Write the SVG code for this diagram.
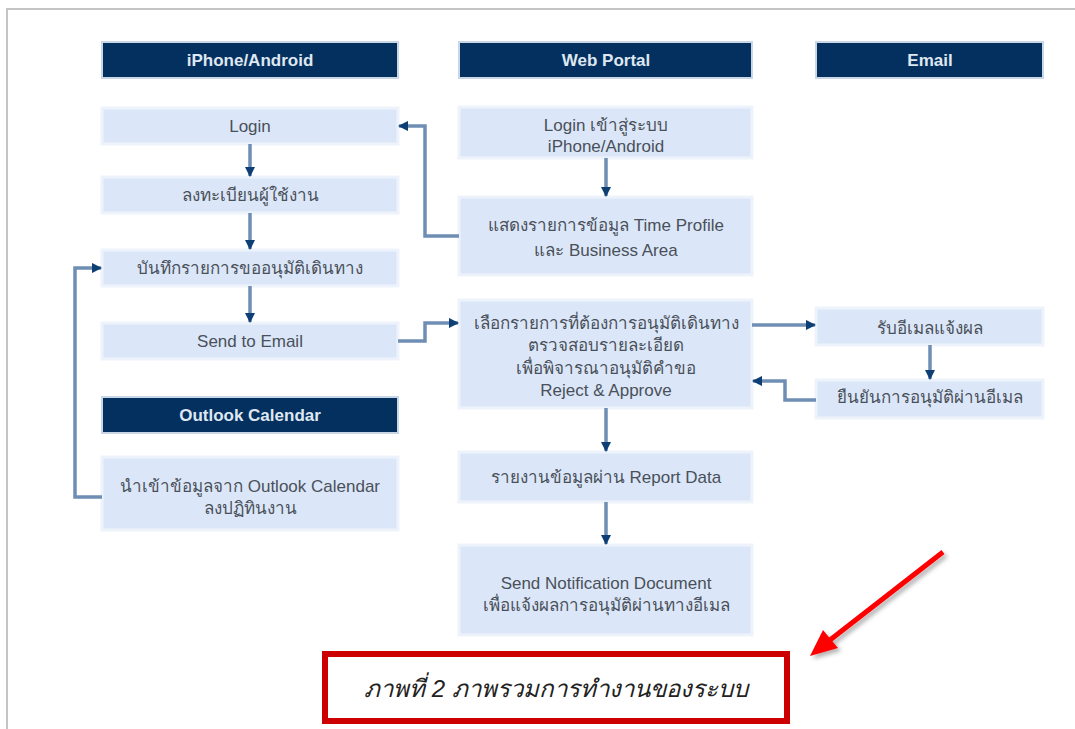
<svg xmlns="http://www.w3.org/2000/svg" width="1075" height="729" viewBox="0 0 1075 729">
<style>
.hd{fill:#04305f;stroke:#c9d6e6;stroke-width:2}
.bx{fill:#dbe7f8;stroke:#eef3fb;stroke-width:3}
.ht{font-family:"Liberation Sans","Noto Sans","DejaVu Sans",sans-serif;font-size:17px;font-weight:bold;fill:#dfe7f1;text-anchor:middle}
.bt{font-family:"Liberation Sans","Noto Sans","DejaVu Sans",sans-serif;font-size:17px;fill:#4a505a;text-anchor:middle}
.cn{fill:none;stroke:#6f8eb4;stroke-width:3.5;marker-end:url(#ah)}
.cap{font-family:"Liberation Sans","Noto Sans","DejaVu Sans",sans-serif;font-size:24px;font-style:italic;fill:#222;text-anchor:middle}
</style>
<defs>
<marker id="ah" viewBox="0 0 10 10" refX="9" refY="5" markerWidth="3" markerHeight="3" orient="auto">
<path d="M0,0 L10,5 L0,10 Z" fill="#0e3f74"/>
</marker>
<filter id="sh" x="-20%" y="-20%" width="140%" height="140%">
<feDropShadow dx="3" dy="3" stdDeviation="2" flood-color="#000" flood-opacity="0.3"/>
</filter>
</defs>
<rect width="1075" height="729" fill="#ffffff"/>
<path d="M7,729 V9 H1075" fill="none" stroke="#c4c4c4" stroke-width="2"/>

<g id="h-mobile"><rect class="hd" x="102" y="42" width="296" height="36"/><text class="ht" x="250" y="66">iPhone/Android</text></g>
<g id="h-web"><rect class="hd" x="459" y="42" width="293" height="36"/><text class="ht" x="606" y="66">Web Portal</text></g>
<g id="h-email"><rect class="hd" x="816" y="42" width="227" height="36"/><text class="ht" x="930" y="66">Email</text></g>
<g id="h-outlook"><rect class="hd" x="102" y="397" width="296" height="36"/><text class="ht" x="250" y="421">Outlook Calendar</text></g>

<g id="n-login"><rect class="bx" x="102" y="108" width="296" height="36"/><text class="bt" x="250" y="132">Login</text></g>
<g id="n-register"><rect class="bx" x="102" y="177" width="296" height="36"/><text class="bt" x="250" y="201">ลงทะเบียนผู้ใช้งาน</text></g>
<g id="n-record"><rect class="bx" x="102" y="250" width="296" height="36"/><text class="bt" x="250" y="274">บันทึกรายการขออนุมัติเดินทาง</text></g>
<g id="n-send"><rect class="bx" x="102" y="323" width="296" height="36"/><text class="bt" x="250" y="347">Send to Email</text></g>
<g id="n-calendar"><rect class="bx" x="102" y="457" width="296" height="73"/><text class="bt" x="250" y="492">นำเข้าข้อมูลจาก Outlook Calendar</text><text class="bt" x="250" y="514">ลงปฏิทินงาน</text></g>

<g id="n-weblogin"><rect class="bx" x="459" y="107" width="293" height="51"/><text class="bt" x="606" y="131">Login เข้าสู่ระบบ</text><text class="bt" x="606" y="152">iPhone/Android</text></g>
<g id="n-show"><rect class="bx" x="459" y="197" width="293" height="78"/><text class="bt" x="606" y="231">แสดงรายการข้อมูล Time Profile</text><text class="bt" x="606" y="256">และ Business Area</text></g>
<g id="n-approve"><rect class="bx" x="459" y="300" width="293" height="108"/><text class="bt" x="606" y="329">เลือกรายการที่ต้องการอนุมัติเดินทาง</text><text class="bt" x="606" y="351">ตรวจสอบรายละเอียด</text><text class="bt" x="606" y="374">เพื่อพิจารณาอนุมัติคำขอ</text><text class="bt" x="606" y="396">Reject &amp; Approve</text></g>
<g id="n-report"><rect class="bx" x="459" y="452" width="293" height="50"/><text class="bt" x="606" y="483">รายงานข้อมูลผ่าน Report Data</text></g>
<g id="n-notify"><rect class="bx" x="459" y="545" width="293" height="90"/><text class="bt" x="606" y="589">Send Notification Document</text><text class="bt" x="606" y="611">เพื่อแจ้งผลการอนุมัติผ่านทางอีเมล</text></g>

<g id="n-receive"><rect class="bx" x="816" y="308" width="227" height="37"/><text class="bt" x="930" y="334">รับอีเมลแจ้งผล</text></g>
<g id="n-confirm"><rect class="bx" x="816" y="380" width="227" height="38"/><text class="bt" x="930" y="403">ยืนยันการอนุมัติผ่านอีเมล</text></g>

<g id="connectors">
<path class="cn" d="M250,144 V176"/>
<path class="cn" d="M250,213 V249"/>
<path class="cn" d="M250,286 V322"/>
<path class="cn" d="M102,497 H75 V268 H101"/>
<path class="cn" d="M606,158 V196"/>
<path class="cn" d="M459,236 H425 V126 H399"/>
<path class="cn" d="M398,341 H425 V323 H458"/>
<path class="cn" d="M752,325 H815"/>
<path class="cn" d="M930,345 V379"/>
<path class="cn" d="M816,400 H785 V381 H753"/>
<path class="cn" d="M606,408 V451"/>
<path class="cn" d="M606,502 V544"/>
</g>

<g id="caption">
<rect x="325" y="654" width="462" height="67" fill="none" stroke="#cc0000" stroke-width="6"/>
<text class="cap" x="556" y="697">ภาพที่ 2 ภาพรวมการทำงานของระบบ</text>
</g>
<g id="red-arrow" filter="url(#sh)">
<line x1="943" y1="552" x2="830" y2="640" stroke="#ff0000" stroke-width="5"/>
<path d="M810,656 L823,630 L838,648 Z" fill="#ff0000"/>
</g>
</svg>
